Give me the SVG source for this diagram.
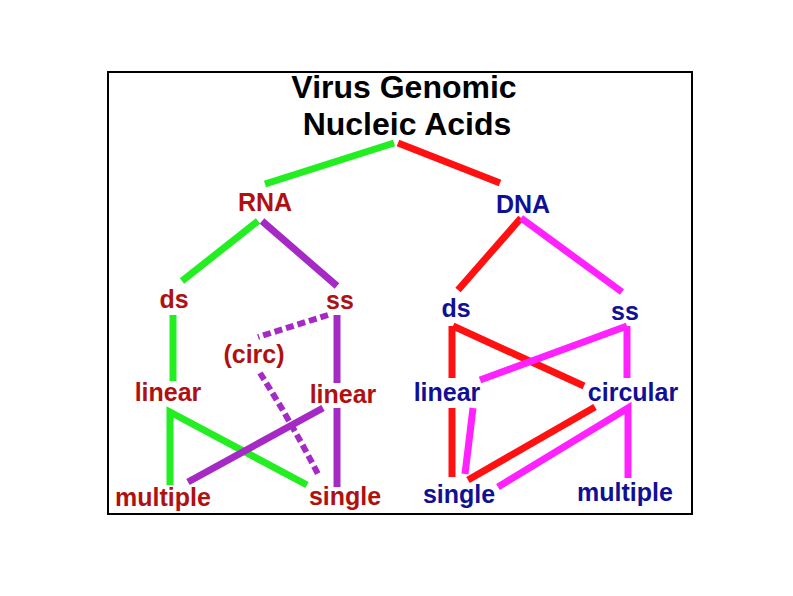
<svg xmlns="http://www.w3.org/2000/svg" width="793" height="596" viewBox="0 0 793 596">
<style>
.t{font-family:"Liberation Sans",Arial,sans-serif;font-weight:bold;text-anchor:middle}
.title{font-size:32px;fill:#000}
.r{font-size:25px;fill:#b01010}
.b{font-size:25px;fill:#101095}
.l{fill:none;stroke-width:7;stroke-linecap:butt}
.g{stroke:#22ee22}.red{stroke:#ff1111}.p{stroke:#a52ac5}.m{stroke:#ff22ff}
.d{stroke-dasharray:8 4;stroke-width:6}
</style>
<rect x="0" y="0" width="793" height="596" fill="#fff"/>
<rect x="108" y="72" width="584" height="442" fill="#fff" stroke="#000" stroke-width="2"/>
<g id="connectors">
<path class="l g" d="M394,143 L265,184"/>
<path class="l red" d="M398,143 L500,183"/>
<path class="l g" d="M258,221 L182,281"/>
<path class="l p" d="M262,221 L337,286"/>
<path class="l g" d="M173,315 L173,381"/>
<path class="l p d" d="M328,315 L258,337"/>
<path class="l p d" d="M260,373 Q290,420 318,474"/>
<path class="l p" d="M337,315 L337,383"/>
<path class="l g" d="M170,485 L170,412 L307,485"/>
<path class="l p" d="M323,408 L188,482"/>
<path class="l p" d="M337,408 L337,487"/>
<path class="l red" d="M521,218 L458,290"/>
<path class="l m" d="M521,218 L622,292"/>
<path class="l red" d="M452,326 L452,378"/>
<path class="l red" d="M452,408 L452,477"/>
<path class="l red" d="M453,326 L584,386"/>
<path class="l m" d="M627,326 L480,380"/>
<path class="l m" d="M627,326 L627,378"/>
<path class="l m" d="M473,408 L465,474"/>
<path class="l red" d="M595,407 L468,480"/>
<path class="l m" d="M628,478 L628,408 L498,487"/>
</g>
<g id="title"><text class="t title" x="404" y="98">Virus Genomic</text><text class="t title" x="407" y="135">Nucleic Acids</text></g>
<g id="rna"><text class="t r" x="265" y="211">RNA</text></g>
<g id="dna"><text class="t b" x="523" y="213">DNA</text></g>
<g id="rna-ds"><text class="t r" x="174" y="308">ds</text></g>
<g id="rna-ss"><text class="t r" x="340" y="309">ss</text></g>
<g id="rna-circ"><text class="t r" x="254" y="363">(circ)</text></g>
<g id="rna-linear1"><text class="t r" x="168" y="401">linear</text></g>
<g id="rna-linear2"><text class="t r" x="343" y="403">linear</text></g>
<g id="rna-multiple"><text class="t r" x="163" y="506">multiple</text></g>
<g id="rna-single"><text class="t r" x="345" y="505">single</text></g>
<g id="dna-ds"><text class="t b" x="456" y="317">ds</text></g>
<g id="dna-ss"><text class="t b" x="625" y="320">ss</text></g>
<g id="dna-linear"><text class="t b" x="447" y="401">linear</text></g>
<g id="dna-circular"><text class="t b" x="633" y="401">circular</text></g>
<g id="dna-single"><text class="t b" x="459" y="503">single</text></g>
<g id="dna-multiple"><text class="t b" x="625" y="501">multiple</text></g>
</svg>
